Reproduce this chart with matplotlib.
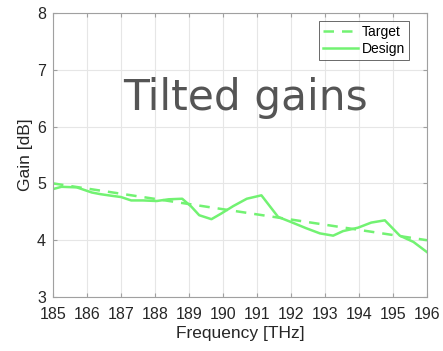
import numpy as np
import matplotlib
matplotlib.use("Agg")
import matplotlib.pyplot as plt

# Design gain profile (THz, dB)
design_freq = [185.0, 185.25, 185.7, 186.14, 186.4, 186.75, 187.0, 187.3, 187.65,
               188.05, 188.4, 188.8, 189.07, 189.3, 189.66, 189.95, 190.3, 190.7,
               191.13, 191.62, 192.0, 192.45, 192.85, 193.24, 193.53, 193.97,
               194.36, 194.76, 195.2, 195.6, 196.0]
design_gain = [4.90, 4.94, 4.93, 4.84, 4.81, 4.78, 4.76, 4.70, 4.70,
               4.69, 4.72, 4.73, 4.59, 4.44, 4.37, 4.47, 4.60, 4.73,
               4.79, 4.41, 4.32, 4.21, 4.12, 4.08, 4.16, 4.22,
               4.31, 4.35, 4.08, 3.97, 3.79]

# Linear tilt target
target_freq = [185.0, 196.0]
target_gain = [5.0, 4.0]

xticks = list(range(185, 197))
yticks = [3, 4, 5, 6, 7, 8]

green = "#72f272"
plt.rcParams["font.family"] = ["Liberation Sans", "DejaVu Sans"]

fig = plt.figure(figsize=(4.43, 3.51), dpi=100)
ax = fig.add_axes([53 / 443, 1 - 297 / 351, (427 - 53) / 443, (297 - 13) / 351])

ax.plot(target_freq, target_gain, color=green, lw=1.8, ls=(0, (4.2, 3.2)), label="Target")
ax.plot(design_freq, design_gain, color=green, lw=1.8, label="Design")

ax.set_xlim(185, 196)
ax.set_ylim(3, 8)
ax.set_xticks(xticks)
ax.set_yticks(yticks)
ax.grid(True, color="#e6e6e6", lw=0.8)
ax.set_axisbelow(True)
for s in ax.spines.values():
    s.set_color("#a0a0a0")
    s.set_linewidth(0.8)
ax.tick_params(direction="in", length=3, color="#a0a0a0", labelcolor="#262626",
               labelsize=11.5, top=True, right=True)
ax.tick_params(axis="x", pad=7)
ax.tick_params(axis="y", pad=5)

ax.set_xlabel("Frequency [THz]", fontsize=12.5, color="#262626", labelpad=3)
ax.set_ylabel("Gain [dB]", fontsize=12.5, color="#262626", labelpad=3)

ax.text(0.515, 0.658, "Tilted gains", transform=ax.transAxes, ha="center", va="baseline",
        fontsize=30.5, color="#555555", family="DejaVu Sans")

leg = ax.legend(loc="upper right", fontsize=10, frameon=True, fancybox=False,
                handlelength=2.5, borderpad=0.3, labelspacing=0.2, handletextpad=0.3,
                borderaxespad=0, bbox_to_anchor=(0.953, 0.972))
leg.get_frame().set_edgecolor("#262626")
leg.get_frame().set_linewidth(0.6)

fig.savefig("out.png", dpi=100)
